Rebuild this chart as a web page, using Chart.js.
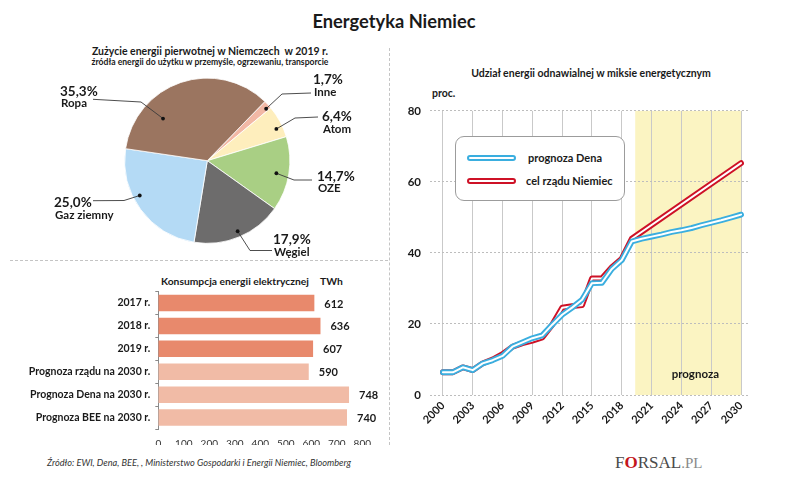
<!DOCTYPE html>
<html><head><meta charset="utf-8">
<script src="https://cdn.jsdelivr.net/npm/chart.js@4/dist/chart.umd.min.js"></script>
<style>
html,body{margin:0;padding:0;background:#fff}
body{width:788px;height:488px;position:relative;overflow:hidden;font-family:Lato,'Open Sans',sans-serif;color:#1a1a1a}
.t{position:absolute;white-space:nowrap;font-weight:bold;line-height:1}
canvas{position:absolute}
.sample{position:absolute;height:2px;border-radius:4px;background:#fff}
</style></head><body>

<div class="t" id="mainTitle" style="left:0;width:788px;text-align:center;top:12px;font-size:18.3px">Energetyka Niemiec</div>

<div class="t" style="left:210px;top:46px;transform:translateX(-50%);font-size:10.5px">Zużycie energii pierwotnej w Niemczech&nbsp; w 2019 r.</div>
<div class="t" style="left:210px;top:58px;transform:translateX(-50%);font-size:8.6px">źródła energii do użytku w przemyśle, ogrzewaniu, transporcie</div>

<div style="position:absolute;left:10px;top:260px;width:378px;border-top:1px dashed #c4c4c4"></div>
<div style="position:absolute;left:389px;top:48px;height:397px;border-left:1px dashed #c4c4c4"></div>

<div class="t" style="left:161px;top:276px;font-size:10.3px">Konsumpcja energii elektrycznej</div>
<div class="t" style="left:320px;top:276px;font-size:10.3px">TWh</div>

<div class="t" style="left:591px;top:68px;transform:translateX(-50%);font-size:10.5px">Udział energii odnawialnej w miksie energetycznym</div>
<div class="t" style="left:432px;top:88px;font-size:10.5px">proc.</div>

<canvas id="pie" width="390" height="225" style="left:0;top:40px"></canvas>
<canvas id="bar" width="390" height="165" style="left:0;top:280px"></canvas>
<canvas id="line" width="370" height="345" style="left:400px;top:95px"></canvas>

<div style="position:absolute;left:455px;top:136px;width:168px;height:63px;border:1px solid #9c9c9c;border-radius:9px;background:#fff"></div>
<div class="sample" style="left:467px;top:155px;width:45px;border:2px solid #3AAEDF"></div>
<div class="t" style="left:528px;top:152px;font-size:11px">prognoza Dena</div>
<div class="sample" style="left:467px;top:178px;width:45px;border:2px solid #CE1126"></div>
<div class="t" style="left:526px;top:175px;font-size:11px">cel rządu Niemiec</div>

<div class="t" style="left:47px;top:458px;font-size:9.2px;font-weight:normal;font-style:italic;color:#333">Źródło: EWI, Dena, BEE, , Ministerstwo Gospodarki i Energii Niemiec, Bloomberg</div>
<div class="t" style="left:615px;top:454px;font-size:17px;font-weight:normal;font-family:'Liberation Serif','DejaVu Serif',serif;color:#4a4a4a">F<span style="color:#c4161c;font-weight:bold">O</span>RSAL<span style="color:#8a8a8a;font-size:15px">.PL</span></div>

<script>
// ---------- DATA ----------
const pieLabels = ['Inne', 'Atom', 'OZE', 'Węgiel', 'Gaz ziemny', 'Ropa'];
const pieValues = [1.7, 6.4, 14.7, 17.9, 25.0, 35.3];
const pieValueTexts = ['1,7%', '6,4%', '14,7%', '17,9%', '25,0%', '35,3%'];
const pieColors = ['#F2B8A5', '#FEEEBD', '#A9CF84', '#6D6C6C', '#B4DAF5', '#9B7560'];

const barCategories = ['2017 r.', '2018 r.', '2019 r.', 'Prognoza rządu na 2030 r.', 'Prognoza Dena na 2030 r.', 'Prognoza BEE na 2030 r.'];
const barValues = [612, 636, 607, 590, 748, 740];
const barColors = ['#E8896C', '#E8896C', '#E8896C', '#F1BBA6', '#F1BBA6', '#F1BBA6'];
const barTickMax = 800;
const barTickStep = 100;

const years = [2000, 2001, 2002, 2003, 2004, 2005, 2006, 2007, 2008, 2009, 2010,
               2011, 2012, 2013, 2014, 2015, 2016, 2017, 2018, 2019, 2020,
               2021, 2022, 2023, 2024, 2025, 2026, 2027, 2028, 2029, 2030];
const denaValues = [6.4, 6.4, 7.8, 7.0, 8.9, 9.8, 11.0, 13.6, 14.8, 16.0, 16.8,
                    19.8, 22.6, 24.6, 26.8, 31.5, 31.6, 35.5, 38.0, 43.2, 44.0,
                    44.6, 45.2, 45.9, 46.4, 47.0, 47.8, 48.5, 49.2, 50.0, 50.8];
const govValues = [6.4, 6.4, 7.8, 7.0, 8.9, 10.0, 11.5, 13.6, 14.6, 15.3, 16.2,
                   19.8, 24.6, 25.0, 25.3, 32.8, 32.8, 36.0, 38.4, 44.0, null,
                   null, null, null, null, null, null, null, null, null, 65.3];
const xTickYears = [2000, 2003, 2006, 2009, 2012, 2015, 2018, 2021, 2024, 2027, 2030];
const yTicks = [0, 20, 40, 60, 80];
const forecastStart = 2019.35;
const forecastEnd = 2030;
const forecastText = 'prognoza';
const legendNames = ['prognoza Dena', 'cel rządu Niemiec'];

// ---------- STYLE ----------
Chart.defaults.font.family = 'Lato, "Open Sans", sans-serif';
Chart.defaults.color = '#1a1a1a';
const BLUE = '#3AAEDF', RED = '#CE1126';

// pie label layout (canvas coordinates): dot position inside slice, leader line, text anchor
const pieLabelLayout = [
  {a: 0.72, r: 0.95, elbow: [282, 54], end: [311, 53], tx: 313, py: 40, ny: 52},
  {a: 0.66, r: 0.92, elbow: [295, 78], end: [318, 77], tx: 322, py: 77, ny: 89},
  {a: 0.52, r: 0.85, elbow: [294, 140], end: [312, 140], tx: 317, py: 137, ny: 148},
  {a: 0.49, r: 0.93, elbow: [250, 210.5], end: [272, 210.5], tx: 273, py: 200, ny: 212},
  {a: 0.60, r: 0.92, elbow: [124, 160.5], end: [93, 160.7], tx: 54, py: 163, ny: 175},
  {a: 0.28, r: 0.74, elbow: [141, 62], end: [93, 59.3], tx: 60, py: 52, ny: 63}
];

const pieLabelPlugin = {
  id: 'pieLabels',
  afterDatasetsDraw(chart) {
    const ctx = chart.ctx;
    const meta = chart.getDatasetMeta(0);
    meta.data.forEach((arc, i) => {
      const L = pieLabelLayout[i];
      const p = arc.getProps(['x', 'y', 'startAngle', 'endAngle', 'outerRadius'], true);
      const ang = p.startAngle + (p.endAngle - p.startAngle) * L.a;
      const dx = p.x + Math.cos(ang) * p.outerRadius * L.r;
      const dy = p.y + Math.sin(ang) * p.outerRadius * L.r;
      ctx.save();
      ctx.strokeStyle = '#3a3a3a';
      ctx.lineWidth = 0.9;
      ctx.beginPath();
      ctx.moveTo(dx, dy);
      ctx.lineTo(L.elbow[0], L.elbow[1]);
      ctx.lineTo(L.end[0], L.end[1]);
      ctx.stroke();
      ctx.fillStyle = '#111';
      ctx.beginPath();
      ctx.arc(dx, dy, 1.9, 0, Math.PI * 2);
      ctx.fill();
      ctx.textAlign = 'left';
      ctx.textBaseline = 'middle';
      ctx.fillStyle = '#1a1a1a';
      ctx.font = 'bold 13.5px Lato, sans-serif';
      ctx.fillText(pieValueTexts[i], L.tx, L.py);
      ctx.font = 'bold 11.5px Lato, sans-serif';
      ctx.fillText(pieLabels[i], L.tx + 1, L.ny);
      ctx.restore();
    });
  }
};

new Chart(document.getElementById('pie'), {
  type: 'pie',
  data: {labels: pieLabels, datasets: [{data: pieValues, backgroundColor: pieColors, borderColor: '#ffffff', borderWidth: 0.8}]},
  options: {
    responsive: false, animation: false, rotation: 44.2,
    layout: {padding: {left: 124.3, right: 99.7, top: 37.7, bottom: 21.3}},
    plugins: {legend: {display: false}, tooltip: {enabled: false}}
  },
  plugins: [pieLabelPlugin]
});

const barValuePlugin = {
  id: 'barValues',
  afterDatasetsDraw(chart) {
    const ctx = chart.ctx;
    const meta = chart.getDatasetMeta(0);
    ctx.save();
    ctx.font = 'bold 11px Lato, sans-serif';
    ctx.fillStyle = '#1a1a1a';
    ctx.textAlign = 'left';
    ctx.textBaseline = 'middle';
    meta.data.forEach((bar, i) => {
      ctx.fillText(String(barValues[i]), bar.x + 10, bar.y + 1);
    });
    ctx.restore();
  }
};

new Chart(document.getElementById('bar'), {
  type: 'bar',
  data: {labels: barCategories, datasets: [{data: barValues, backgroundColor: barColors, barPercentage: 0.72, categoryPercentage: 1}]},
  options: {
    indexAxis: 'y', responsive: false, animation: false,
    layout: {padding: {top: 11.5, right: 27.7, left: 0, bottom: 0}},
    plugins: {legend: {display: false}, tooltip: {enabled: false}},
    scales: {
      x: {
        min: 0, max: barTickMax,
        ticks: {stepSize: barTickStep, font: {size: 10}, color: '#333', padding: 1},
        grid: {display: false}, border: {display: false},
        afterFit(s) { s.height = 16; }
      },
      y: {
        ticks: {font: {size: 10.5, weight: 'bold'}, color: '#1a1a1a', padding: 5},
        grid: {drawOnChartArea: false, tickLength: 3, color: '#8a8a8a'},
        border: {display: true, color: '#8a8a8a', width: 1},
        afterFit(s) { s.width = 158.3; }
      }
    }
  },
  plugins: [barValuePlugin]
});

const forecastPlugin = {
  id: 'forecast',
  beforeDraw(chart) {
    const {ctx, scales: {x, y}} = chart;
    ctx.save();
    ctx.fillStyle = '#FBF4C2';
    const x0 = x.getPixelForValue(forecastStart), x1 = x.getPixelForValue(forecastEnd);
    const y0 = y.getPixelForValue(80), y1 = y.getPixelForValue(0);
    ctx.fillRect(x0, y0, x1 - x0, y1 - y0);
    ctx.restore();
  },
  afterDatasetsDraw(chart) {
    const {ctx, scales: {x, y}} = chart;
    ctx.save();
    ctx.font = 'bold 11.5px Lato, sans-serif';
    ctx.fillStyle = '#1a1a1a';
    ctx.textAlign = 'center';
    ctx.textBaseline = 'middle';
    ctx.fillText(forecastText, x.getPixelForValue(2025.4), y.getPixelForValue(5.8));
    ctx.restore();
  }
};

const toPts = vals => years.map((yr, i) => ({x: yr, y: vals[i]}));
const lineBase = {pointRadius: 0, tension: 0, borderCapStyle: 'round', borderJoinStyle: 'round', fill: false};

new Chart(document.getElementById('line'), {
  type: 'line',
  data: {
    datasets: [
      Object.assign({label: legendNames[0] + ' inner', data: toPts(denaValues), borderColor: '#ffffff', borderWidth: 2, order: 0}, lineBase),
      Object.assign({label: legendNames[0], data: toPts(denaValues), borderColor: BLUE, borderWidth: 5.8, order: 1}, lineBase),
      Object.assign({label: legendNames[1] + ' inner', data: toPts(govValues), borderColor: '#ffffff', borderWidth: 2, order: 2, spanGaps: true}, lineBase),
      Object.assign({label: legendNames[1], data: toPts(govValues), borderColor: RED, borderWidth: 5.8, order: 3, spanGaps: true}, lineBase)
    ]
  },
  options: {
    responsive: false, animation: false,
    layout: {padding: {top: 10, right: 22, left: 0, bottom: 0}},
    plugins: {legend: {display: false}, tooltip: {enabled: false}},
    scales: {
      x: {
        type: 'linear', min: 1998.7, max: 2030.7,
        afterBuildTicks(s) { s.ticks = xTickYears.map(v => ({value: v})); },
        ticks: {callback: v => String(v), minRotation: 45, maxRotation: 45, font: {size: 11, weight: 'bold'}, color: '#1a1a1a', padding: 4, autoSkip: false},
        grid: {color: '#C9C9C9', lineWidth: 1, drawTicks: false},
        border: {display: false},
        afterFit(s) { s.height = 45; }
      },
      y: {
        min: 0, max: 80,
        afterBuildTicks(s) { s.ticks = yTicks.map(v => ({value: v})); },
        ticks: {font: {size: 11.5, weight: 'bold'}, color: '#1a1a1a', padding: 9},
        grid: {color: '#BDBDBD', lineWidth: 1, drawTicks: false},
        border: {display: false, dash: [2, 2]},
        afterFit(s) { s.width = 30; }
      }
    }
  },
  plugins: [forecastPlugin]
});
</script>
</body></html>
